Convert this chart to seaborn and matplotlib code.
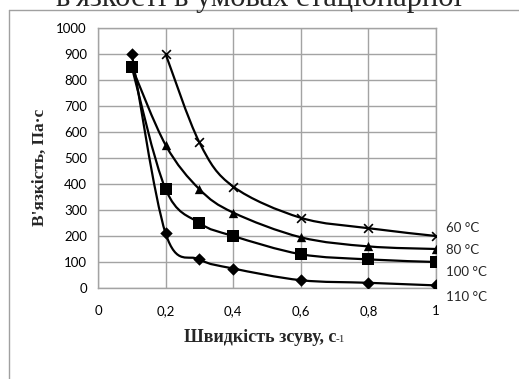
import numpy as np
import pandas as pd
import matplotlib
matplotlib.use("Agg")
import matplotlib.pyplot as plt
from matplotlib.path import Path
from matplotlib.patches import PathPatch
from matplotlib.lines import Line2D
import seaborn as sns

# ---- data ----
series_names = ["60 °C", "80 °C", "100 °C", "110 °C"]
x_60 = [0.2, 0.3, 0.4, 0.6, 0.8, 1.0]
y_60 = [900, 560, 390, 270, 230, 200]
x_80 = [0.1, 0.2, 0.3, 0.4, 0.6, 0.8, 1.0]
y_80 = [850, 550, 380, 290, 195, 160, 150]
x_100 = [0.1, 0.2, 0.3, 0.4, 0.6, 0.8, 1.0]
y_100 = [850, 380, 250, 200, 130, 110, 100]
x_110 = [0.1, 0.2, 0.3, 0.4, 0.6, 0.8, 1.0]
y_110 = [900, 210, 110, 75, 30, 20, 10]
x_ticks = [0, 0.2, 0.4, 0.6, 0.8, 1.0]
x_tick_labels = ["0", "0,2", "0,4", "0,6", "0,8", "1"]
y_ticks = list(range(0, 1001, 100))
label_y = [230, 146, 62, -35]

sns.set_style("white")
plt.rcParams["font.family"] = ["Lato", "DejaVu Sans"]

W, H = 519, 379
fig = plt.figure(figsize=(W / 100, H / 100), dpi=100)
ax = fig.add_axes([98 / W, 1 - 288 / H, (436 - 98) / W, (288 - 28) / H])

series = [
    (x_60, y_60, "x", 40, 1.2),
    (x_80, y_80, "^", 45, 0),
    (x_100, y_100, "s", 85, 0),
    (x_110, y_110, "D", 40, 0),
]


def smooth_path(xs, ys):
    pts = np.column_stack([xs, ys]).astype(float)
    n = len(pts)
    verts = [pts[0]]
    codes = [Path.MOVETO]
    for i in range(n - 1):
        p0 = pts[i - 1] if i > 0 else pts[i]
        p1 = pts[i]
        p2 = pts[i + 1]
        p3 = pts[i + 2] if i + 2 < n else pts[i + 1]
        c1 = p1 + (p2 - p0) / 6.0
        c2 = p2 - (p3 - p1) / 6.0
        verts += [c1, c2, p2]
        codes += [Path.CURVE4] * 3
    return Path(verts, codes)


for xs, ys, mk, s, lw in series:
    ax.add_patch(PathPatch(smooth_path(xs, ys), facecolor="none",
                           edgecolor="black", lw=1.6, zorder=3))
    df = pd.DataFrame({"x": xs, "y": ys})
    sns.scatterplot(data=df, x="x", y="y", marker=mk, s=s, color="black",
                    edgecolor="black", linewidth=lw, ax=ax, zorder=4, legend=False)

ax.set_xlim(0, 1)
ax.set_ylim(0, 1000)
ax.set_xticks(x_ticks)
ax.set_xticklabels(x_tick_labels)
ax.set_yticks(y_ticks)
ax.grid(True, color="#a3a3a3", lw=1.0)
ax.set_axisbelow(True)
for side in ["top", "right", "left", "bottom"]:
    ax.spines[side].set_visible(True)
    ax.spines[side].set_color("#a3a3a3")
    ax.spines[side].set_linewidth(1.0)
ax.tick_params(axis="both", which="major", length=4, color="#a3a3a3",
               labelsize=9.5, labelcolor="black", direction="out", pad=4)
ax.tick_params(axis="x", pad=8)
ax.set_xlabel("")
ax.set_ylabel("")

for name, ly in zip(series_names, label_y):
    ax.text(1.03, ly, name, fontsize=9.5, va="center", ha="left", clip_on=False)

serif = ["Liberation Serif", "DejaVu Serif"]
fig.text(40 / W, 1 - 167 / H, "В'язкість, Па·с", rotation=90, ha="center",
         va="center", fontsize=12.5, family=serif, weight="bold")
fig.text(336 / W, 1 - 337 / H, "Швидкість зсуву, с", ha="right",
         va="center", fontsize=13, family=serif, weight="bold")
fig.text(336 / W, 1 - 339 / H, "-1", ha="left", va="center", fontsize=8,
         family=serif)

# chart-area border (partially visible)
fig.add_artist(Line2D([9 / W, 9 / W], [0, 1 - 10 / H], color="#a0a0a0",
                      lw=1.0, transform=fig.transFigure))
fig.add_artist(Line2D([9 / W, 1], [1 - 10 / H, 1 - 10 / H], color="#a0a0a0",
                      lw=1.0, transform=fig.transFigure))

# cropped document heading above the chart (cut off in the reference too)
fig.text(0.5, 1 - 6 / H, "в'язкості в умовах стаціонарної", ha="center",
         va="baseline", fontsize=22, family=serif)

fig.savefig("out.png", dpi=100)
